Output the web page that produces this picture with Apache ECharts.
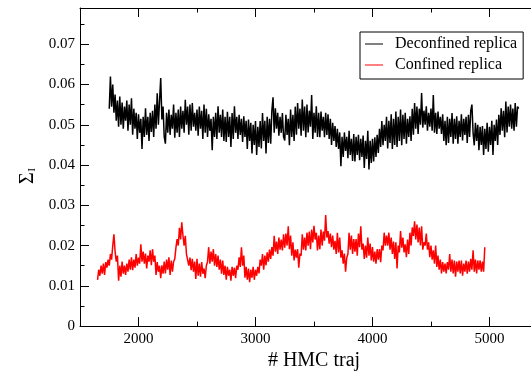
<!DOCTYPE html>
<html>
<head>
<meta charset="utf-8">
<script src="https://cdn.jsdelivr.net/npm/echarts@6/dist/echarts.min.js"></script>
<style>html,body{margin:0;padding:0;background:#fff;}#c{width:531px;height:376px;}</style>
</head>
<body>
<div id="c"></div>
<script>
// Deconfined replica: Sigma_I sampled every 10 HMC trajectories from 1750
const deconfStart = 1750, deconfStep = 10;
const deconfSigma = [
.0540,.0620,.0545,.0600,.0530,.0575,.0510,.0560,.0495,.0570,
.0500,.0555,.0490,.0545,.0510,.0560,.0485,.0550,.0500,.0566,
.0475,.0540,.0490,.0530,.0465,.0526,.0480,.0515,.0440,.0520,
.0470,.0541,.0475,.0520,.0460,.0530,.0482,.0535,.0470,.0550,
.0490,.0578,.0500,.0560,.0616,.0513,.0545,.0470,.0453,.0530,
.0480,.0538,.0475,.0525,.0490,.0550,.0468,.0530,.0480,.0538,
.0470,.0545,.0490,.0535,.0480,.0562,.0500,.0545,.0475,.0550,
.0485,.0554,.0495,.0530,.0485,.0538,.0473,.0545,.0490,.0535,
.0465,.0550,.0480,.0540,.0470,.0526,.0485,.0515,.0437,.0520,
.0470,.0530,.0465,.0546,.0480,.0525,.0470,.0538,.0460,.0520,
.0457,.0532,.0470,.0520,.0445,.0529,.0465,.0546,.0480,.0520,
.0465,.0525,.0475,.0515,.0457,.0521,.0470,.0510,.0440,.0513,
.0460,.0505,.0429,.0500,.0450,.0509,.0425,.0495,.0445,.0509,
.0441,.0529,.0460,.0510,.0429,.0520,.0455,.0515,.0453,.0535,
.0568,.0480,.0541,.0490,.0530,.0473,.0520,.0480,.0529,.0470,
.0461,.0525,.0475,.0515,.0449,.0538,.0470,.0525,.0460,.0545,
.0475,.0554,.0490,.0540,.0473,.0563,.0485,.0545,.0469,.0550,
.0481,.0535,.0495,.0574,.0465,.0530,.0480,.0546,.0470,.0530,
.0469,.0533,.0485,.0520,.0469,.0530,.0475,.0526,.0465,.0515,
.0450,.0505,.0460,.0497,.0445,.0490,.0440,.0481,.0397,.0470,
.0420,.0481,.0435,.0470,.0417,.0485,.0425,.0465,.0410,.0477,
.0409,.0470,.0425,.0475,.0412,.0465,.0420,.0473,.0393,.0460,
.0415,.0485,.0389,.0460,.0405,.0465,.0409,.0469,.0420,.0475,
.0430,.0490,.0445,.0509,.0449,.0500,.0460,.0520,.0441,.0510,
.0455,.0526,.0440,.0515,.0450,.0533,.0445,.0520,.0460,.0538,
.0449,.0525,.0465,.0530,.0453,.0515,.0470,.0521,.0460,.0540,
.0475,.0554,.0490,.0545,.0477,.0540,.0500,.0579,.0493,.0535,
.0500,.0546,.0485,.0530,.0495,.0540,.0485,.0574,.0480,.0530,
.0477,.0533,.0490,.0520,.0477,.0526,.0460,.0510,.0449,.0520,
.0455,.0515,.0470,.0529,.0453,.0515,.0465,.0521,.0453,.0510,
.0470,.0526,.0461,.0515,.0475,.0520,.0455,.0525,.0470,.0535,
.0550,.0480,.0449,.0505,.0460,.0500,.0437,.0495,.0450,.0497,
.0425,.0490,.0440,.0505,.0433,.0495,.0450,.0510,.0425,.0500,
.0460,.0513,.0450,.0525,.0475,.0541,.0485,.0535,.0469,.0558,
.0481,.0545,.0495,.0550,.0490,.0540,.0485,.0554,.0495,.0545,
.0540
];
// Confined replica: Sigma_I sampled every 10 HMC trajectories from 1650
const confStart = 1650, confStep = 10;
const confSigma = [
.0115,.0140,.0125,.0150,.0130,.0155,.0127,.0159,.0145,.0165,
.0150,.0179,.0165,.0200,.0228,.0185,.0160,.0175,.0113,.0150,
.0123,.0160,.0130,.0150,.0127,.0155,.0135,.0165,.0140,.0171,
.0139,.0165,.0145,.0179,.0150,.0170,.0155,.0203,.0160,.0185,
.0155,.0180,.0143,.0175,.0160,.0188,.0151,.0191,.0160,.0175,
.0127,.0159,.0135,.0150,.0119,.0151,.0130,.0160,.0131,.0165,
.0140,.0171,.0127,.0163,.0135,.0160,.0167,.0195,.0216,.0200,
.0244,.0215,.0258,.0225,.0200,.0224,.0179,.0175,.0150,.0170,
.0139,.0167,.0135,.0160,.0117,.0167,.0125,.0155,.0123,.0159,
.0130,.0143,.0119,.0150,.0160,.0196,.0155,.0185,.0160,.0191,
.0150,.0179,.0147,.0175,.0140,.0165,.0130,.0163,.0127,.0150,
.0115,.0147,.0125,.0140,.0113,.0147,.0125,.0145,.0119,.0150,
.0140,.0171,.0147,.0196,.0150,.0175,.0120,.0147,.0115,.0143,
.0109,.0140,.0120,.0147,.0115,.0140,.0125,.0147,.0131,.0165,
.0150,.0179,.0140,.0175,.0151,.0183,.0160,.0190,.0167,.0196,
.0175,.0224,.0185,.0210,.0179,.0220,.0190,.0215,.0188,.0228,
.0195,.0230,.0200,.0248,.0191,.0225,.0175,.0208,.0163,.0190,
.0170,.0191,.0145,.0180,.0175,.0228,.0190,.0220,.0188,.0232,
.0200,.0235,.0191,.0240,.0208,.0249,.0215,.0232,.0188,.0225,
.0191,.0240,.0200,.0235,.0212,.0276,.0220,.0236,.0205,.0230,
.0196,.0225,.0190,.0212,.0179,.0232,.0183,.0220,.0170,.0188,
.0155,.0180,.0135,.0170,.0179,.0232,.0190,.0225,.0179,.0216,
.0185,.0216,.0175,.0230,.0196,.0248,.0190,.0205,.0167,.0200,
.0170,.0220,.0175,.0205,.0163,.0196,.0160,.0185,.0155,.0191,
.0165,.0191,.0159,.0200,.0188,.0232,.0200,.0225,.0200,.0232,
.0190,.0220,.0179,.0210,.0167,.0208,.0143,.0200,.0183,.0236,
.0195,.0220,.0183,.0203,.0171,.0215,.0179,.0232,.0200,.0245,
.0224,.0260,.0215,.0252,.0208,.0245,.0200,.0248,.0190,.0208,
.0200,.0230,.0190,.0208,.0171,.0200,.0165,.0188,.0155,.0200,
.0147,.0175,.0140,.0165,.0131,.0159,.0135,.0155,.0131,.0159,
.0140,.0179,.0135,.0165,.0131,.0163,.0123,.0160,.0135,.0163,
.0131,.0163,.0125,.0155,.0135,.0163,.0130,.0160,.0135,.0167,
.0140,.0188,.0135,.0165,.0131,.0163,.0140,.0163,.0135,.0160,
.0135,.0196
];
const xMajorTicks = [2000, 3000, 4000, 5000];
const xMinorTicks = [1500, 2500, 3500, 4500];
const yMajorTicks = [0, 0.01, 0.02, 0.03, 0.04, 0.05, 0.06, 0.07];
const yMinorTicks = [0.005, 0.015, 0.025, 0.035, 0.045, 0.055, 0.065, 0.075];
const seriesNames = ['Deconfined replica', 'Confined replica'];

const FONT = 'Liberation Serif';
const X_MIN = 1500, X_MAX = 5355, Y_MIN = 0, Y_MAX = 0.079;

const toPairs = (start, step, vals) => vals.map((v, i) => [start + i * step, v]);

function xAx(pos, ticks, len, showLine, labels, extra) {
  return Object.assign({
    type: 'value', position: pos, min: X_MIN, max: X_MAX,
    axisLine: { show: showLine, onZero: false, lineStyle: { color: '#000', width: 1 } },
    axisTick: { show: true, inside: true, length: len, customValues: ticks, lineStyle: { color: '#000', width: 1 } },
    axisLabel: labels ? { show: true, customValues: ticks, color: '#000', fontFamily: FONT, fontSize: 15, margin: 5,
      formatter: v => String(v) } : { show: false },
    splitLine: { show: false }
  }, extra || {});
}
function yAx(ticks, len, labels) {
  return {
    type: 'value', position: 'left', min: Y_MIN, max: Y_MAX,
    axisLine: { show: labels, onZero: false, lineStyle: { color: '#000', width: 1 } },
    axisTick: { show: true, inside: true, length: len, customValues: ticks, lineStyle: { color: '#000', width: 1 } },
    axisLabel: labels ? { show: true, customValues: ticks, color: '#000', fontFamily: FONT, fontSize: 15, margin: 5,
      formatter: v => (v === 0 ? '0' : v.toFixed(2)) } : { show: false },
    splitLine: { show: false },
    name: labels ? '{s|Σ}{sub|I}' : '',
    nameLocation: 'middle', nameGap: 42, nameRotate: 90,
    nameTextStyle: { rich: {
      s: { fontFamily: FONT, fontSize: 20, color: '#000', lineHeight: 24, verticalAlign: 'bottom' },
      sub: { fontFamily: FONT, fontSize: 10, color: '#000', lineHeight: 24, verticalAlign: 'bottom', padding: [0, 18, 0, 1] }
    } }
  };
}

const LEG_ICON = 'path://M0,0M0,6.5H18V7.5H0ZM18,14';

const chart = echarts.init(document.getElementById('c'), null, { renderer: 'canvas' });
chart.setOption({
  animation: false,
  backgroundColor: '#fff',
  grid: { left: 80, top: 8, right: 0, height: 327, containLabel: false },
  legend: {
    data: seriesNames.map(n => ({ name: n, icon: LEG_ICON })),
    orient: 'vertical', left: 360, top: 32,
    itemWidth: 18, itemHeight: 14, itemGap: 5,
    padding: [4, 6, 6, 5],
    borderColor: '#000', borderWidth: 1, backgroundColor: '#fff',
    textStyle: { fontFamily: FONT, fontSize: 16, color: '#000', padding: [0, 0, 0, 7] }
  },
  xAxis: [
    xAx('bottom', xMajorTicks, 9, true, true, {
      name: '# HMC traj', nameLocation: 'middle', nameGap: 23,
      nameTextStyle: { fontFamily: FONT, fontSize: 20, color: '#000', padding: [0, 0, 0, 17] }
    }),
    xAx('bottom', xMinorTicks, 4.5, false, false),
    xAx('top', xMajorTicks, 9, true, false),
    xAx('top', xMinorTicks, 4.5, false, false)
  ],
  yAxis: [ yAx(yMajorTicks, 9, true), yAx(yMinorTicks, 4.5, false) ],
  series: [
    { name: seriesNames[0], type: 'line', data: toPairs(deconfStart, deconfStep, deconfSigma), symbol: 'none', showSymbol: false,
      xAxisIndex: 0, yAxisIndex: 0, lineStyle: { color: '#000', width: 1.5 }, itemStyle: { color: '#000' } },
    { name: seriesNames[1], type: 'line', data: toPairs(confStart, confStep, confSigma), symbol: 'none', showSymbol: false,
      xAxisIndex: 0, yAxisIndex: 0, lineStyle: { color: '#ff0000', width: 1.5 }, itemStyle: { color: '#ff0000' } }
  ]
});
</script>
</body>
</html>
